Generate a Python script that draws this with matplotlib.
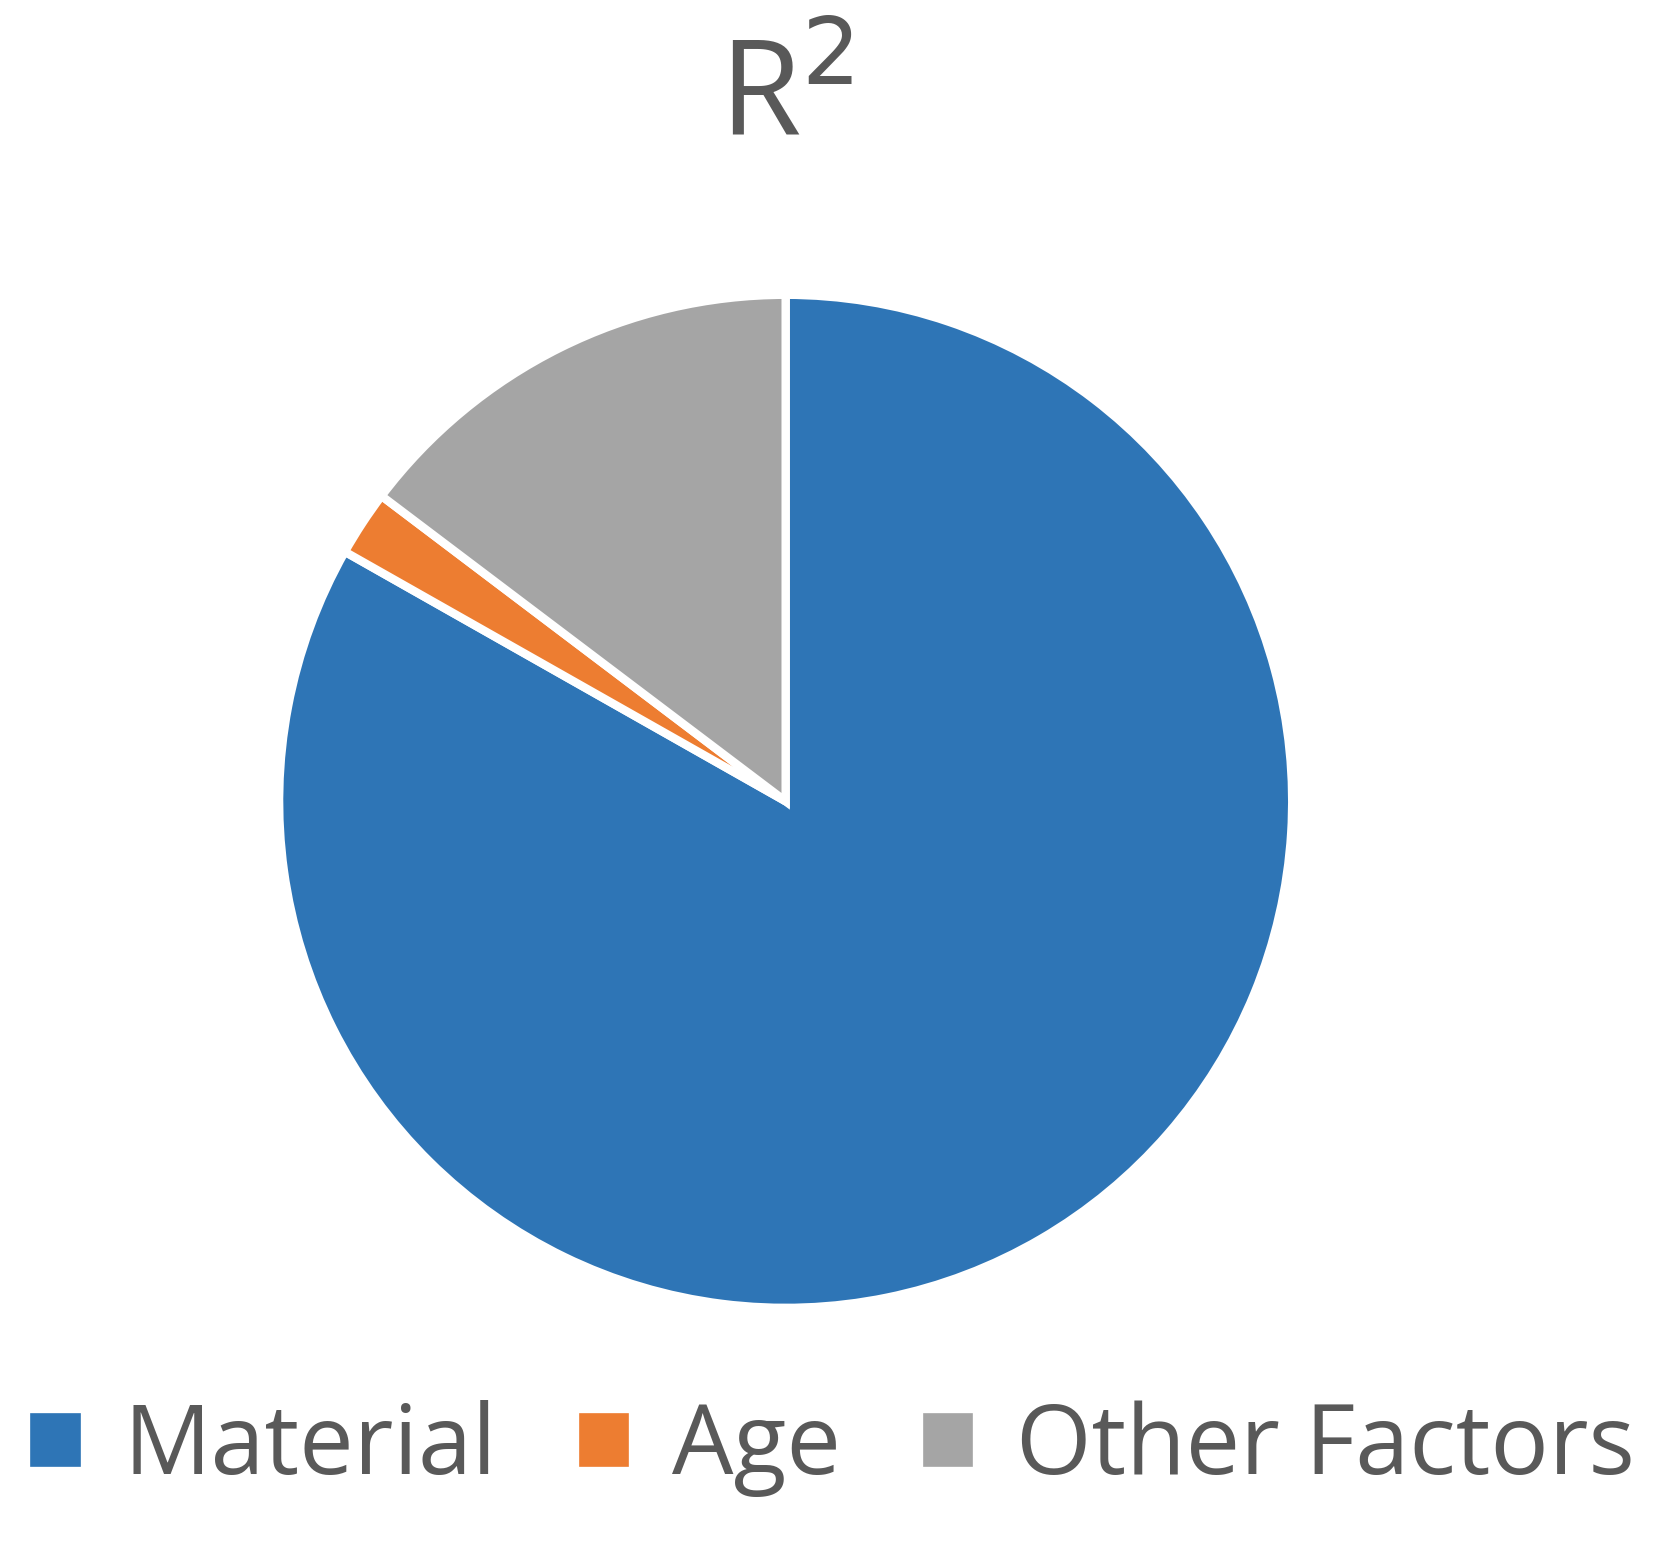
import matplotlib
matplotlib.use("Agg")
import matplotlib.pyplot as plt

labels = ["Material", "Age", "Other Factors"]
values = [83.2, 2.1, 14.7]
colors = ["#2E75B6", "#ED7D31", "#A5A5A5"]

plt.rcParams['font.family'] = ['Open Sans', 'DejaVu Sans']
fig = plt.figure(figsize=(16.61, 15.41), dpi=100)
ax = fig.add_axes([0.165, 0.148, 0.616, 0.664])
wedges, _ = ax.pie(values, colors=colors, startangle=90, counterclock=False,
                   wedgeprops=dict(edgecolor="white", linewidth=6))
ax.set_xlim(-1.01, 1.01)
ax.set_ylim(-1.01, 1.01)
ax.set_aspect("equal")
fig.text(0.473, 0.935, "R$^{2}$", ha="center", va="center", fontsize=95, color="#595959")
fig.legend(wedges, labels, loc="center", bbox_to_anchor=(0.5, 0.06), ncol=3,
           frameon=False, fontsize=70, labelcolor="#595959", handlelength=0.6,
           handleheight=0.6, handletextpad=0.4, columnspacing=0.8)
fig.savefig("out.png", dpi=100, facecolor="white")
